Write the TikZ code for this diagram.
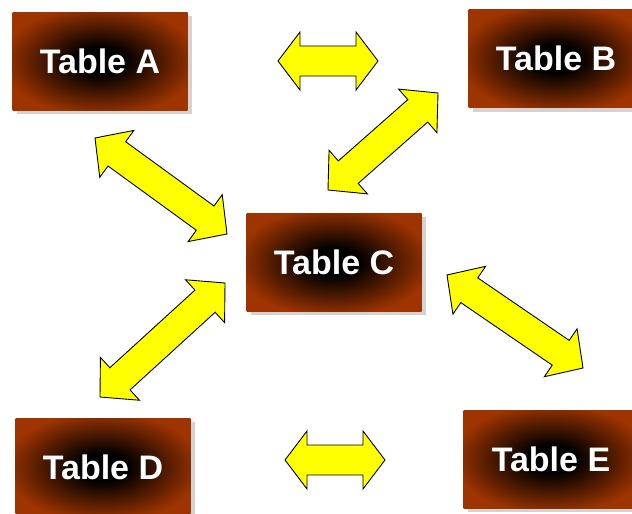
\documentclass[tikz,border=0pt]{standalone}
\usepackage{fontspec}
\setmainfont{Liberation Sans}
\usetikzlibrary{shadows,calc}
\pgfdeclarelayer{edgelayer}
\pgfdeclarelayer{nodelayer}
\pgfsetlayers{edgelayer,nodelayer,main}
\definecolor{rust}{RGB}{158,52,0}
\definecolor{linkyellow}{RGB}{255,255,0}
\pgfdeclareradialshading{tableglow}{\pgfpoint{0bp}{0bp}}{color(0bp)=(black); color(7bp)=(black); color(28bp)=(rust); color(50bp)=(rust)}
\tikzset{font=\fontsize{34}{37}\selectfont\bfseries}
\tikzstyle{table}=[rectangle,inner sep=0pt,minimum width=175pt,minimum height=98pt,shading=tableglow,text=white,drop shadow={shadow xshift=4pt,shadow yshift=-4pt,opacity=0.35}]
\tikzstyle{link}=[draw=black,line width=0.9pt,fill=linkyellow,line join=miter]
% block arrow with two heads, [head length]{tip}{tip}
\newcommand{\blockarrow}[3][22]{%
  \draw[style=link] (#2) -- ($(#2)!#1pt!(#3)!29pt!90:(#3)$)
    -- ($(#2)!#1pt!(#3)!15pt!90:(#3)$) -- ($(#3)!#1pt!(#2)!15pt!-90:(#2)$)
    -- ($(#3)!#1pt!(#2)!29pt!-90:(#2)$) -- (#3)
    -- ($(#3)!#1pt!(#2)!29pt!90:(#2)$) -- ($(#3)!#1pt!(#2)!15pt!90:(#2)$)
    -- ($(#2)!#1pt!(#3)!15pt!-90:(#3)$) -- ($(#2)!#1pt!(#3)!29pt!-90:(#3)$)
    -- cycle;}

\begin{document}
\begin{tikzpicture}[x=1pt,y=-1pt]
	\useasboundingbox (0,0) rectangle (632,514);
	\begin{pgfonlayer}{nodelayer}
		\node [style=table] (A) at (100, 61) {Table A};
		\node [style=table] (B) at (556, 58.5) {Table B};
		\node [style=table] (C) at (334, 262) {Table C};
		\node [style=table] (D) at (103, 467) {Table D};
		\node [style=table] (E) at (551, 459) {Table E};
	\end{pgfonlayer}
	\begin{pgfonlayer}{edgelayer}
		\coordinate (ab1) at (278, 61);
		\coordinate (ab2) at (378, 61);
		\coordinate (ac1) at (95, 138);
		\coordinate (ac2) at (227, 234);
		\coordinate (cb1) at (328, 190);
		\coordinate (cb2) at (438, 93);
		\coordinate (cd1) at (225, 283);
		\coordinate (cd2) at (100, 397);
		\coordinate (ce1) at (447, 275);
		\coordinate (ce2) at (583, 368);
		\coordinate (de1) at (285, 460);
		\coordinate (de2) at (385, 460);
		\blockarrow{ab1}{ab2}
		\blockarrow[27]{ac1}{ac2}
		\blockarrow[27]{cb1}{cb2}
		\blockarrow[27]{cd1}{cd2}
		\blockarrow[27]{ce1}{ce2}
		\blockarrow{de1}{de2}
	\end{pgfonlayer}
\end{tikzpicture}
\end{document}
